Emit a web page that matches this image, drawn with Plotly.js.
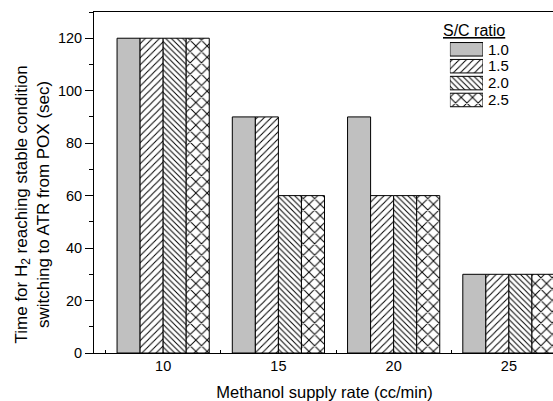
<!DOCTYPE html>
<html>
<head>
<meta charset="utf-8">
<script src="https://cdn.plot.ly/plotly-3.0.1.min.js"></script>
<style>
html,body{margin:0;padding:0;overflow:hidden;background:#fff;}
#chart{width:600px;height:401px;}
</style>
</head>
<body>
<div id="chart"></div>
<script>
// ---- data ----
const rates = [10, 15, 20, 25];               // Methanol supply rate (cc/min)
const scLabels = ['1.0', '1.5', '2.0', '2.5']; // S/C ratio
const sc10 = [120, 90, 90, 30];
const sc15 = [120, 90, 60, 30];
const sc20 = [120, 60, 60, 30];
const sc25 = [120, 60, 60, 30];
const yTicks = [0, 20, 40, 60, 80, 100, 120];

// ---- styles ----
const FONT = '"Liberation Sans", Arial, sans-serif';
const series = [sc10, sc15, sc20, sc25];
const fills = ['#c0c0c0', '#ffffff', '#ffffff', '#ffffff'];
const shapes = ['', '/', '\\', 'x'];
const psize = [6, 5, 4, 8];
const psolid = [0.2, 0.2, 0.25, 0.23];

function markerFor(i) {
  const m = {color: fills[i], line: {color: '#000', width: 1}};
  if (shapes[i]) {
    m.pattern = {shape: shapes[i], fgcolor: '#000', bgcolor: '#fff', size: psize[i], solidity: psolid[i], fillmode: 'replace'};
  }
  return m;
}

const traces = series.map((vals, i) => ({
  type: 'bar',
  x: rates,
  y: vals,
  name: scLabels[i],
  width: 1,
  marker: markerFor(i),
  showlegend: false,
  hoverinfo: 'skip'
}));

// legend drawn as a small bar subplot (one swatch per S/C ratio)
scLabels.forEach((lab, i) => {
  traces.push({
    type: 'bar',
    orientation: 'h',
    y: [lab],
    x: [1],
    xaxis: 'x2',
    yaxis: 'y2',
    offsetgroup: 'legend',
    marker: markerFor(i),
    showlegend: false,
    hoverinfo: 'skip'
  });
});

const layout = {
  width: 600,
  height: 401,
  margin: {l: 94, r: 45, t: 12, b: 48},
  paper_bgcolor: '#fff',
  plot_bgcolor: '#fff',
  font: {family: FONT, color: '#000', size: 14.5},
  barmode: 'group',
  bargap: 0.2,
  bargroupgap: 0,
  showlegend: false,
  xaxis: {
    range: [7, 27],
    tickvals: rates,
    ticktext: rates.map(String),
    ticks: '',
    showline: true, linecolor: '#000', linewidth: 1, mirror: true,
    showgrid: false, zeroline: false,
    tickfont: {family: FONT, size: 14.5, color: '#000'},
    minor: {ticks: 'inside', ticklen: 3, tickcolor: '#000', tickwidth: 1, tick0: 7.5, dtick: 5, showgrid: false},
    title: {text: 'Methanol supply rate (cc/min)', font: {family: FONT, size: 16.5, color: '#000'}, standoff: 14}
  },
  yaxis: {
    range: [0, 130],
    tickvals: yTicks,
    ticks: 'outside', ticklen: 8, tickwidth: 1, tickcolor: '#000',
    showline: true, linecolor: '#000', linewidth: 1, mirror: true,
    showgrid: false, zeroline: false,
    tickfont: {family: FONT, size: 14.5, color: '#000'},
    minor: {ticks: 'outside', ticklen: 4, tickcolor: '#000', tickwidth: 1, dtick: 10, showgrid: false}
  },
  xaxis2: {
    domain: [0.772, 0.8438],
    range: [0, 1],
    anchor: 'y2',
    visible: false,
    fixedrange: true
  },
  yaxis2: {
    domain: [0.7172, 0.9154],
    anchor: 'x2',
    side: 'right',
    type: 'category',
    categoryorder: 'array',
    categoryarray: scLabels,
    tickmode: 'array',
    tickvals: scLabels,
    ticktext: scLabels,
    autorange: 'reversed',
    showline: false, showgrid: false, zeroline: false,
    ticks: '',
    ticklabelstandoff: 4,
    tickfont: {family: FONT, size: 15, color: '#000'},
    fixedrange: true
  },
  annotations: [
    {
      text: 'Time for H<sub>2</sub> reaching stable condition<br>switching to ATR from POX (sec)',
      textangle: -90,
      xref: 'paper', yref: 'paper',
      x: -0.1345, y: 0.4355,
      xanchor: 'center', yanchor: 'middle',
      showarrow: false,
      font: {family: FONT, size: 17, color: '#000'}
    },
    {
      text: '<u>S/C ratio</u>',
      xref: 'paper', yref: 'paper',
      x: 0.8243, y: 0.947,
      xanchor: 'center', yanchor: 'middle',
      showarrow: false,
      font: {family: FONT, size: 16, color: '#000'}
    }
  ]
};

Plotly.newPlot('chart', traces, layout, {displayModeBar: false, staticPlot: true});
</script>
</body>
</html>
